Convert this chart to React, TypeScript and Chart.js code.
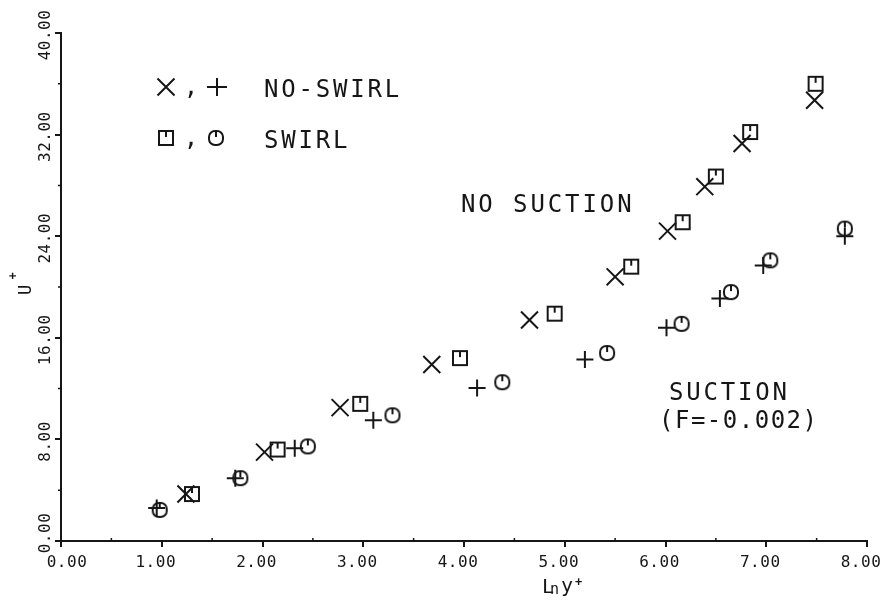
import React, { useEffect, useRef } from 'react';
import { Chart, registerables } from 'chart.js';

Chart.register(...registerables);

// ---- data ----
const xTicks = [0, 1, 2, 3, 4, 5, 6, 7, 8];
const yTicks = [0, 8, 16, 24, 32, 40];
const xMinorTicks = [0.5, 1.5, 2.5, 3.5, 4.5, 5.5, 6.5, 7.5];
const yMinorTicks = [4, 12, 20, 28, 36];

// no-swirl, no suction (X)
const noSwirlNoSuctionX = [1.24, 2.02, 2.77, 3.68, 4.65, 5.5, 6.02, 6.39, 6.76, 7.48];
const noSwirlNoSuctionY = [3.7, 7.0, 10.5, 13.9, 17.4, 20.8, 24.4, 27.9, 31.3, 34.7];
// swirl, no suction (square)
const swirlNoSuctionX = [1.3, 2.15, 2.97, 3.96, 4.9, 5.66, 6.17, 6.5, 6.84, 7.49];
const swirlNoSuctionY = [3.7, 7.2, 10.8, 14.4, 17.9, 21.6, 25.1, 28.7, 32.2, 36.0];
// no-swirl, suction (+)
const noSwirlSuctionX = [0.95, 1.73, 2.32, 3.1, 4.13, 5.2, 6.01, 6.54, 6.97, 7.78];
const noSwirlSuctionY = [2.6, 4.95, 7.3, 9.5, 12.05, 14.3, 16.8, 19.1, 21.7, 24.0];
// swirl, suction (circle)
const swirlSuctionX = [0.98, 1.78, 2.45, 3.29, 4.38, 5.42, 6.16, 6.65, 7.04, 7.78];
const swirlSuctionY = [2.45, 4.95, 7.45, 9.9, 12.5, 14.8, 17.1, 19.6, 22.1, 24.6];

const legendNoSwirl = 'NO-SWIRL';
const legendSwirl = 'SWIRL';
const noSuctionLabel = 'NO SUCTION';
const suctionLabel = 'SUCTION';
const suctionParam = '(F=-0.002)';

const FONT = '"DejaVu Sans Mono", "Liberation Mono", monospace';
const INK = '#161616';

function makeMarker(kind: 'square' | 'circle'): HTMLCanvasElement {
  const c = document.createElement('canvas');
  c.width = 18;
  c.height = 18;
  const g = c.getContext('2d')!;
  g.strokeStyle = INK;
  g.lineWidth = 2;
  g.beginPath();
  if (kind === 'square') g.rect(2, 2, 14, 14);
  else (g as any).roundRect(2, 2, 14, 14, 6);
  g.stroke();
  g.beginPath();
  g.moveTo(9, 2);
  g.lineTo(9, 8);
  g.stroke();
  return c;
}

function zip(xs: number[], ys: number[]) {
  return xs.map((x, i) => ({ x, y: ys[i] }));
}

export default function App() {
  const ref = useRef<HTMLCanvasElement | null>(null);

  useEffect(() => {
    document.body.style.margin = '0';
    const canvas = ref.current!;
    const squareImg = makeMarker('square');
    const circleImg = makeMarker('circle');

    const spaced = (ctx: CanvasRenderingContext2D, text: string, x: number, y: number, size: number, spacing: number) => {
      ctx.font = `${size}px ${FONT}`;
      (ctx as any).letterSpacing = `${spacing}px`;
      ctx.fillText(text, x, y);
      (ctx as any).letterSpacing = '0px';
    };

    const overlay = {
      id: 'overlay',
      beforeDraw(chart: any) {
        const ctx = chart.ctx as CanvasRenderingContext2D;
        ctx.save();
        ctx.fillStyle = '#ffffff';
        ctx.fillRect(0, 0, chart.width, chart.height);
        ctx.restore();
      },
      afterDraw(chart: any) {
        const ctx = chart.ctx as CanvasRenderingContext2D;
        const xs = chart.scales.x;
        const ys = chart.scales.y;
        const area = chart.chartArea;
        ctx.save();
        ctx.fillStyle = INK;
        ctx.strokeStyle = INK;

        // x tick labels
        ctx.font = `16px ${FONT}`;
        (ctx as any).letterSpacing = '0.5px';
        ctx.textAlign = 'center';
        ctx.textBaseline = 'alphabetic';
        for (const v of xTicks) {
          const px = xs.getPixelForValue(v);
          const shift = v === xTicks[0] ? 6 : -6;
          ctx.fillText(v.toFixed(2), px + shift, area.bottom + 26);
        }

        // y tick labels (rotated)
        ctx.textBaseline = 'middle';
        for (const v of yTicks) {
          const py = ys.getPixelForValue(v);
          const shift = v === yTicks[0] ? -8 : 2;
          ctx.save();
          ctx.translate(area.left - 15, py + shift);
          ctx.rotate(-Math.PI / 2);
          ctx.fillText(v.toFixed(2), 0, 0);
          ctx.restore();
        }
        (ctx as any).letterSpacing = '0px';

        // minor ticks
        ctx.lineWidth = 1.5;
        ctx.beginPath();
        for (const v of xMinorTicks) {
          const px = xs.getPixelForValue(v);
          ctx.moveTo(px, area.bottom);
          ctx.lineTo(px, area.bottom - 3);
        }
        for (const v of yMinorTicks) {
          const py = ys.getPixelForValue(v);
          ctx.moveTo(area.left, py);
          ctx.lineTo(area.left - 3, py);
        }
        ctx.stroke();

        // y title U+
        ctx.save();
        ctx.translate(27, 290);
        ctx.rotate(-Math.PI / 2);
        ctx.textAlign = 'center';
        ctx.textBaseline = 'middle';
        ctx.font = `17px ${FONT}`;
        ctx.fillText('U', 0, 0);
        ctx.font = `bold 12px ${FONT}`;
        ctx.fillText('+', 14, -13);
        ctx.restore();

        // x title Ln y+
        ctx.textAlign = 'left';
        ctx.textBaseline = 'alphabetic';
        ctx.font = `20px ${FONT}`;
        ctx.fillText('L', 542, 593);
        ctx.font = `15px ${FONT}`;
        ctx.fillText('n', 550, 594);
        ctx.font = `20px ${FONT}`;
        ctx.fillText('y', 561, 592);
        ctx.font = `bold 12px ${FONT}`;
        ctx.fillText('+', 575, 586);

        // legend
        ctx.lineWidth = 2;
        ctx.beginPath();
        ctx.moveTo(157.5, 78.5); ctx.lineTo(174.5, 95.5);
        ctx.moveTo(174.5, 78.5); ctx.lineTo(157.5, 95.5);
        ctx.moveTo(207, 87); ctx.lineTo(227, 87);
        ctx.moveTo(217, 78); ctx.lineTo(217, 96);
        ctx.stroke();
        ctx.drawImage(squareImg, 166 - 9, 138 - 9);
        ctx.drawImage(circleImg, 216 - 9, 138 - 9);
        ctx.textAlign = 'center';
        ctx.font = `24px ${FONT}`;
        ctx.fillText(',', 191, 95);
        ctx.fillText(',', 191, 146);
        ctx.textAlign = 'left';
        spaced(ctx, legendNoSwirl, 264, 97, 24, 2.8);
        spaced(ctx, legendSwirl, 264, 148, 24, 2.8);

        // annotations
        spaced(ctx, noSuctionLabel, 461, 212, 24, 2.9);
        spaced(ctx, suctionLabel, 669, 400, 24, 2.8);
        spaced(ctx, suctionParam, 659, 428, 24, 1.5);

        ctx.restore();
      },
    };

    const pointCommon = {
      showLine: false,
      borderColor: INK,
      backgroundColor: INK,
      pointBorderColor: INK,
      pointBackgroundColor: INK,
      borderWidth: 2,
      pointBorderWidth: 2,
    };

    const chart = new Chart(canvas, {
      type: 'scatter',
      data: {
        datasets: [
          { ...pointCommon, label: 'X NO-SWIRL NO SUCTION', data: zip(noSwirlNoSuctionX, noSwirlNoSuctionY), pointStyle: 'crossRot', pointRadius: 12 },
          { ...pointCommon, label: 'SWIRL NO SUCTION', data: zip(swirlNoSuctionX, swirlNoSuctionY), pointStyle: squareImg as any, pointRadius: 8 },
          { ...pointCommon, label: '+ NO-SWIRL SUCTION', data: zip(noSwirlSuctionX, noSwirlSuctionY), pointStyle: 'cross', pointRadius: 8.5 },
          { ...pointCommon, label: 'SWIRL SUCTION', data: zip(swirlSuctionX, swirlSuctionY), pointStyle: circleImg as any, pointRadius: 8 },
        ] as any,
      },
      options: {
        animation: false,
        responsive: false,
        maintainAspectRatio: false,
        layout: { padding: { top: 33, left: 0, right: 16, bottom: 0 } },
        plugins: { legend: { display: false }, tooltip: { enabled: false }, title: { display: false } },
        scales: {
          x: {
            type: 'linear',
            min: 0,
            max: 8,
            afterBuildTicks: (s: any) => { s.ticks = xTicks.map((v) => ({ value: v })); },
            afterFit: (s: any) => { s.height = 59; s.paddingLeft = 0; s.paddingRight = 0; },
            ticks: { display: false },
            grid: { drawOnChartArea: false, drawTicks: true, tickLength: 6, color: INK, lineWidth: 2 },
            border: { display: true, color: INK, width: 2 },
          },
          y: {
            type: 'linear',
            min: 0,
            max: 40,
            afterBuildTicks: (s: any) => { s.ticks = yTicks.map((v) => ({ value: v })); },
            afterFit: (s: any) => { s.width = 61; s.paddingTop = 0; s.paddingBottom = 0; },
            ticks: { display: false },
            grid: { drawOnChartArea: false, drawTicks: true, tickLength: 6, color: INK, lineWidth: 2 },
            border: { display: true, color: INK, width: 2 },
          },
        },
      } as any,
      plugins: [overlay as any],
    });

    return () => chart.destroy();
  }, []);

  return (
    <canvas
      ref={ref}
      width={883}
      height={600}
      style={{ position: 'absolute', left: 0, top: 0, width: 883, height: 600, display: 'block' }}
    />
  );
}
